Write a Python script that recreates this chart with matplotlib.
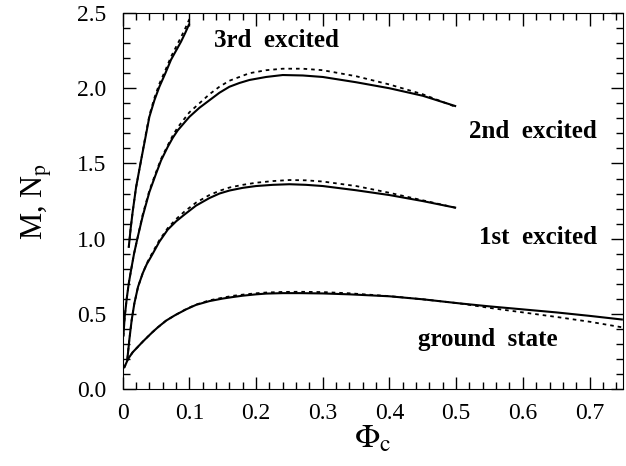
import matplotlib
matplotlib.use("Agg")
import matplotlib.pyplot as plt
from matplotlib.ticker import MultipleLocator

# values
ground_x = [0.002, 0.005, 0.008, 0.015, 0.0225, 0.03, 0.038, 0.045, 0.0525, 0.065, 0.078, 0.095,
            0.11, 0.13, 0.15, 0.165, 0.18, 0.2, 0.215, 0.24, 0.265, 0.3, 0.34,
            0.4, 0.45, 0.505, 0.55, 0.6, 0.65, 0.7, 0.75]
ground_solid = [0.14, 0.17, 0.2, 0.245, 0.28, 0.315, 0.35, 0.38, 0.41, 0.455, 0.49, 0.53,
                0.56, 0.585, 0.602, 0.612, 0.621, 0.63, 0.635, 0.638, 0.638, 0.636, 0.63,
                0.617, 0.597, 0.57, 0.55, 0.53, 0.51, 0.487, 0.462]
ground_dash = [0.14, 0.17, 0.2, 0.245, 0.28, 0.315, 0.35, 0.38, 0.41, 0.455, 0.49, 0.532,
               0.562, 0.59, 0.608, 0.62, 0.628, 0.637, 0.642, 0.646, 0.647, 0.645, 0.637,
               0.618, 0.597, 0.57, 0.54, 0.51, 0.48, 0.448, 0.41]

first_x = [0.007, 0.01, 0.0135, 0.0175, 0.023, 0.03, 0.036, 0.0425, 0.055, 0.0675, 0.08, 0.0925,
           0.11, 0.13, 0.145, 0.16, 0.18, 0.2, 0.225, 0.25, 0.275, 0.3, 0.35, 0.4, 0.45, 0.5]
first_solid = [0.2, 0.33, 0.46, 0.57, 0.68, 0.77, 0.83, 0.88, 0.98, 1.06, 1.115, 1.16,
               1.22, 1.27, 1.3, 1.32, 1.338, 1.35, 1.358, 1.362, 1.358, 1.35, 1.322, 1.29, 1.25, 1.205]
first_dash = [0.2, 0.33, 0.46, 0.57, 0.68, 0.77, 0.835, 0.89, 0.99, 1.07, 1.13, 1.18,
              1.24, 1.29, 1.318, 1.34, 1.358, 1.372, 1.383, 1.39, 1.388, 1.38, 1.35, 1.305, 1.255, 1.205]

second_x = [0.001, 0.003, 0.006, 0.009, 0.0125, 0.017, 0.0225, 0.03, 0.04, 0.049, 0.0575, 0.0675,
            0.075, 0.0825, 0.1, 0.115, 0.13, 0.145, 0.16, 0.175, 0.19, 0.215, 0.24, 0.27, 0.3,
            0.35, 0.4, 0.45, 0.5]
second_solid = [0.35, 0.48, 0.6, 0.7, 0.79, 0.9, 1.01, 1.15, 1.31, 1.42, 1.52, 1.61,
                1.67, 1.72, 1.81, 1.87, 1.92, 1.97, 2.01, 2.035, 2.055, 2.075, 2.088, 2.085, 2.075,
                2.04, 2.0, 1.95, 1.88]
second_dash = [0.35, 0.48, 0.6, 0.7, 0.79, 0.9, 1.01, 1.16, 1.32, 1.43, 1.53, 1.62,
               1.685, 1.74, 1.84, 1.9, 1.96, 2.01, 2.05, 2.075, 2.1, 2.12, 2.13, 2.13, 2.12,
               2.08, 2.025, 1.96, 1.875]

third_x = [0.009, 0.012, 0.015, 0.02, 0.0275, 0.034, 0.04, 0.0475, 0.055, 0.064, 0.0725, 0.08,
           0.0875, 0.094, 0.1]
third_solid = [0.94, 1.07, 1.18, 1.34, 1.52, 1.67, 1.81, 1.92, 2.01, 2.1, 2.19, 2.25,
               2.31, 2.37, 2.43]
third_dash = [0.94, 1.07, 1.18, 1.34, 1.52, 1.68, 1.82, 1.935, 2.03, 2.12, 2.21, 2.275,
              2.34, 2.4, 2.46]

labels = ["3rd  excited", "2nd  excited", "1st  excited", "ground  state"]
label_pos = [(0.23, 2.32), (0.615, 1.715), (0.622, 1.01), (0.548, 0.33)]

plt.rcParams['font.family'] = ['Liberation Serif', 'DejaVu Serif']
plt.rcParams['mathtext.fontset'] = 'stix'

fig = plt.figure(figsize=(6.26, 4.66), dpi=100)
ax = fig.add_axes([0.196, 0.165, 0.799, 0.807])

curves = [(ground_x, ground_solid, ground_dash), (first_x, first_solid, first_dash),
          (second_x, second_solid, second_dash), (third_x, third_solid, third_dash)]
for xs, ys, yd in curves:
	ax.plot(xs, ys, color='black', lw=1.5, solid_capstyle='butt', solid_joinstyle='round')
	ax.plot(xs, yd, color='black', lw=1.3, linestyle=(0, (2, 2.2)))

for txt, (lx, ly) in zip(labels, label_pos):
	ax.text(lx, ly, txt, fontsize=18, fontweight='bold', ha='center', va='center')

ax.set_xlim(0, 0.75)
ax.set_ylim(0, 2.5)
ax.xaxis.set_major_locator(MultipleLocator(0.1))
ax.xaxis.set_minor_locator(MultipleLocator(0.02))
ax.yaxis.set_major_locator(MultipleLocator(0.5))
ax.yaxis.set_minor_locator(MultipleLocator(0.1))
ax.set_xticks([0, 0.1, 0.2, 0.3, 0.4, 0.5, 0.6, 0.7])
ax.set_xticklabels(['0', '0.1', '0.2', '0.3', '0.4', '0.5', '0.6', '0.7'])
ax.yaxis.set_major_formatter(plt.FormatStrFormatter('%.1f'))
ax.tick_params(which='both', direction='in', top=True, right=True, labelsize=17)
ax.tick_params(axis='x', pad=10)
ax.tick_params(axis='y', pad=12)
ax.tick_params(which='major', length=9, width=1)
ax.tick_params(which='minor', length=5, width=1)

ax.set_xlabel(r'$\Phi_{\rm c}$', fontsize=24, labelpad=0)
ax.set_ylabel(r'M, N$_{\rm p}$', fontsize=22, labelpad=16)

fig.savefig('out.png', dpi=100)
